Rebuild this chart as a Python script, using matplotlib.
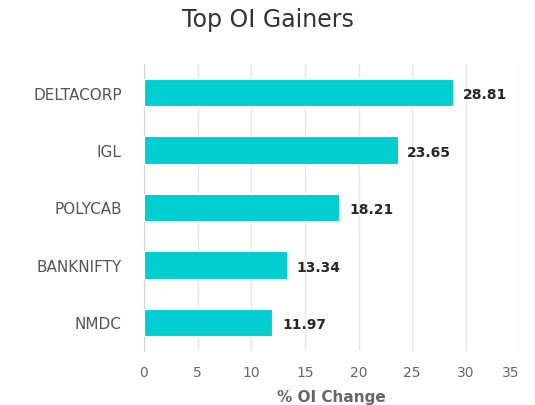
import numpy as np
import matplotlib
matplotlib.use("Agg")
import matplotlib.pyplot as plt

symbols = ["DELTACORP", "IGL", "POLYCAB", "BANKNIFTY", "NMDC"]
oi_change = [28.81, 23.65, 18.21, 13.34, 11.97]
xticks = [0, 5, 10, 15, 20, 25, 30, 35]

plt.rcParams['font.family'] = ['DejaVu Sans']

fig = plt.figure(figsize=(5.35, 4.06), dpi=100)
ax = fig.add_axes([0.269, 0.133, 0.702, 0.707])

y = np.arange(len(symbols))
ax.barh(y, oi_change, height=0.48, color="#00CED1", edgecolor="white", linewidth=0.8, zorder=3)
# value labels just past the bar ends
for yi, v in zip(y, oi_change):
    ax.text(v + 0.9, yi + 0.03, f"{v:.2f}", va="center", ha="left",
            fontsize=10, fontweight="bold", color="#262626")

ax.set_ylim(len(symbols) - 0.5, -0.5)
ax.set_xlim(0, 35)
ax.set_yticks(y)
ax.set_yticklabels(symbols, fontsize=11, color="#555555")
ax.set_xticks(xticks)
ax.set_xticklabels([str(t) for t in xticks], fontsize=10, color="#666666")
ax.get_xticklabels()[-1].set_horizontalalignment("right")

ax.grid(axis="x", color="#e6e6e6", linewidth=1, zorder=0)
for s in ["top", "right", "bottom"]:
    ax.spines[s].set_visible(False)
ax.spines["left"].set_color("#ccd6eb")
ax.tick_params(axis="x", length=0, pad=10)
ax.tick_params(axis="y", length=0, pad=16)

ax.set_xlabel("% OI Change", fontsize=11, fontweight="bold", color="#666666", labelpad=7)
fig.text(0.5, 0.95, "Top OI Gainers", ha="center", va="center", fontsize=17, color="#333333")

fig.savefig("out.png", dpi=100)
